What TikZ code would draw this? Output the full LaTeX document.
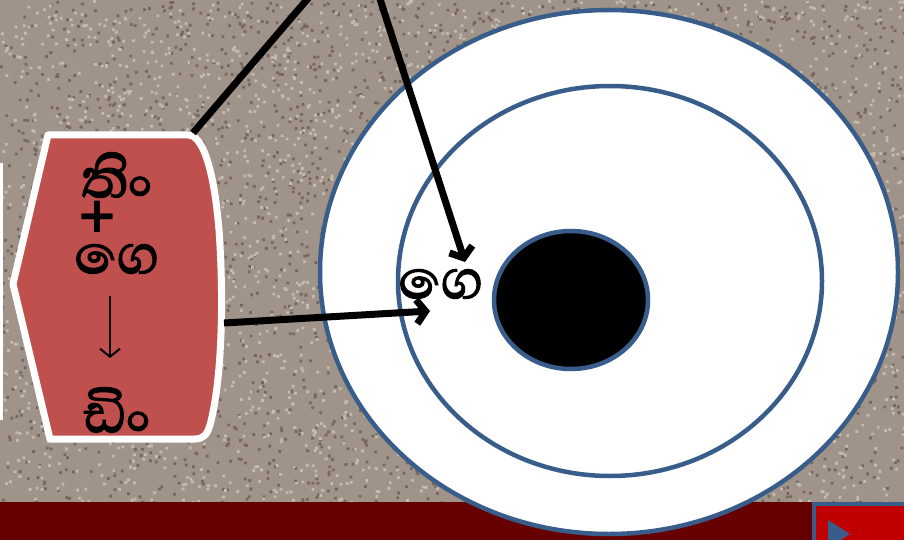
\documentclass[tikz,border=0pt]{standalone}
\usepackage{fontspec}
\usetikzlibrary{arrows.meta}
\newfontfamily\sinhalafnt[Script=Sinhala,FakeBold=2.2]{Abhaya Libre}
\newfontfamily\plusfnt{DejaVu Sans}
\definecolor{bgc}{RGB}{160,147,137}
\definecolor{bgdark}{RGB}{118,104,94}
\definecolor{bglight}{RGB}{196,186,176}
\definecolor{ringc}{RGB}{56,93,138}
\definecolor{boxred}{RGB}{192,80,77}
\definecolor{barc}{RGB}{102,0,0}
\definecolor{btnred}{RGB}{192,0,0}
\tikzset{
  ring/.style={draw=ringc, line width=4.5pt, fill=white},
  blackline/.style={draw=black, line width=7pt},
  blackarrow/.style={draw=black, line width=7pt, -{Straight Barb[length=9pt,width=24pt,line width=7pt]}},
  sinhtxt/.style={font=\sinhalafnt\fontsize{70}{70}\selectfont, inner sep=0pt},
}
\begin{document}
\begin{tikzpicture}[x=1pt,y=-1pt]
\useasboundingbox (0,0) rectangle (904,540);
\clip (0,0) rectangle (904,540);
\fill[bgc] (0,0) rectangle (904,540);
% granite texture
\pgfmathsetseed{7}
\fill[bgdark] \foreach \i in {1,...,2800} { (rnd*904, rnd*502) rectangle ++(2.8,2.8) };
\fill[bglight] \foreach \i in {1,...,2800} { (rnd*904, rnd*502) rectangle ++(2.8,2.8) };
% bottom bar
\fill[barc] (0,502) rectangle (904,540);
\draw[draw=ringc, line width=4pt, fill=btnred] (814,504) rectangle (910,545);
\fill[ringc] (828,520) -- (850,534) -- (828,548) -- cycle;
% white strip at left edge
\fill[white] (0,163) rectangle (2.5,420);
% rings
\draw[ring] (609,272) ellipse [x radius=289, y radius=262];
\draw[ring] (610,281) ellipse [x radius=212, y radius=195];
\draw[ring, fill=black] (571,300) ellipse [x radius=77, y radius=69];
\node[sinhtxt] (ge) at (441,284) {ගෙ};
% left box
\draw[draw=white, line width=7pt, fill=boxred, line join=round]
  (13,284) -- (48,135) -- (188,135)
  .. controls (203,135) and (214,170) .. (219,230)
  .. controls (224,300) and (222,380) .. (210,425)
  .. controls (207,435) and (203,439) .. (195,439)
  -- (50,439) -- cycle;
\node[sinhtxt] (t1) at (117,175) {තිං};
\node[font=\plusfnt\bfseries\fontsize{50}{50}\selectfont, inner sep=0pt] (plus) at (97,217) {+};
\node[sinhtxt] (t2) at (117,259) {ගෙ};
\node[sinhtxt] (t3) at (117,410) {ඩිං};
\coordinate (aTop) at (110,296);
\coordinate (aBot) at (110,358);
\draw[line width=2pt, -{Straight Barb[length=8pt,width=20pt,line width=2pt]}] (aTop) -- (aBot);
% connectors
\coordinate (boxTR) at (193,133);
\coordinate (off1) at (310,-4);
\coordinate (off2) at (379,-4);
\coordinate (tip1) at (465,262);
\coordinate (boxR) at (224,323);
\coordinate (tip2) at (430,311);
\draw[blackline] (boxTR) -- (off1);
\draw[blackarrow] (off2) -- (tip1);
\draw[blackarrow] (boxR) -- (tip2);
\end{tikzpicture}
\end{document}
